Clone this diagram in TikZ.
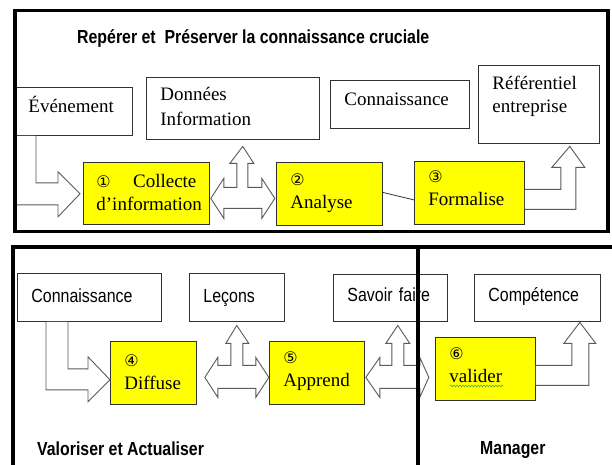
\documentclass[tikz,border=0pt]{standalone}
\usepackage{fontspec}
\setmainfont{Liberation Serif}
\newfontfamily\arialn[FakeStretch=0.84]{Liberation Sans}
\newfontfamily\dejavu{DejaVu Sans}
\usetikzlibrary{positioning}
\usetikzlibrary{calc}
\usetikzlibrary{decorations.pathmorphing}
\definecolor{boxyellow}{RGB}{255,255,0}
\definecolor{edgegray}{RGB}{50,50,50}
\definecolor{arrowgray}{RGB}{90,90,90}
\definecolor{spellgreen}{RGB}{90,170,60}
\newcommand{\cnum}[1]{{\dejavu\fontsize{16}{23}\selectfont #1}}

\begin{document}
\begin{tikzpicture}
[x=1pt,y=-1pt,
 box/.style={draw=edgegray,fill=white,line width=0.8pt,anchor=north west,
   align=left,inner xsep=14pt,inner ysep=0pt,
   font=\fontsize{19}{23}\selectfont},
 sbox/.style={box,font=\arialn\fontsize{19}{23}\selectfont},
 stepbox/.style={box,fill=boxyellow},
 frame/.style={line width=3.5pt},
 blockarrow/.style={draw=arrowgray,fill=white,line width=0.9pt,line join=miter},
 heading/.style={anchor=base west,inner sep=0pt,
   font=\arialn\bfseries\fontsize{18.9}{22}\selectfont},
 spell/.style={draw=spellgreen,line width=0.6pt,decorate,
   decoration={snake,amplitude=0.9pt,segment length=3pt}}]

\clip (0,0) rectangle (612,464);

\node (title) [heading] at (77,43) {Repérer et~ Préserver la connaissance cruciale};

\node (evt) [box,text width=90pt,text height=25pt,text depth=23pt] at (14,87) {Événement};
\node (don) [box,text width=145pt,text height=23pt,text depth=39pt] at (146,77) {Données\\[2pt]Information};
\node (conn1) [box,text width=111pt,text height=25pt,text depth=23pt] at (330,80) {Connaissance};
\node (ref) [box,text width=93pt,text height=24pt,text depth=54pt] at (478,65) {Référentiel\\entreprise};

\node (collecte) [stepbox,inner xsep=13pt,text width=100pt,text height=25pt,text depth=37pt] at (83,162)
	{\cnum{①}\hfill Collecte\\d’information};
\node (analyse) [stepbox,text width=78pt,text height=23pt,text depth=40pt] at (276,162)
	{\cnum{②}\\Analyse};
\node (formalise) [stepbox,text width=82pt,text height=21pt,text depth=42pt] at (414,161)
	{\cnum{③}\\Formalise};

\draw [blockarrow] ($(evt.south west)+(22,0)$) -- ++(0,47) -- ++(22,0) -- ++(0,-11)
	-- ++(22,22) -- ++(-22,23) -- ++(0,-12) -- ++(-43,0) -- ++(0,-69);
\draw [blockarrow] ($(collecte.east)+(1,5)$) -- ++(13,-20) -- ++(0,9) -- ++(13,0)
	-- ++(0,-24) -- ++(-7,0) -- ++(13,-17) -- ++(11,17) -- ++(-6,0) -- ++(0,24)
	-- ++(14,0) -- ++(0,-9) -- ++(13,20) -- ++(-13,20) -- ++(0,-10) -- ++(-38,0)
	-- ++(0,10) -- cycle;
\draw [edgegray,line width=0.8pt] ([yshift=1.5pt]analyse.east) -- ([yshift=-7pt]formalise.west);
\draw [blockarrow] ($(formalise.east)+(0,-3.5)$) -- ++(36,0) -- ++(0,-22) -- ++(-9,0)
	-- ++(18,-21) -- ++(15,21) -- ++(-9,0) -- ++(0,42) -- ++(-51,0);

\node (conn2) [sbox,text width=116pt,text height=29pt,text depth=19pt] at (17,273) {Connaissance};
\node (lecons) [sbox,text width=67pt,text height=29pt,text depth=19pt] at (189,273) {Leçons};
\node (savoir) [sbox,text width=86pt,text height=27pt,text depth=20pt] at (333,274) {Savoir faire};
\node (comp) [sbox,text width=98pt,text height=27pt,text depth=20pt] at (474,274) {Compétence};

\node (diffuse) [stepbox,text width=58pt,text height=25pt,text depth=38pt] at (110,341)
	{\cnum{④}\\Diffuse};
\node (apprend) [stepbox,text width=67pt,text height=22pt,text depth=41pt] at (269,341)
	{\cnum{⑤}\\Apprend};
\node (valider) [stepbox,text width=72pt,text height=22pt,text depth=41pt] at (435,337)
	{\cnum{⑥}\\valider};
\draw [spell] ($(valider.north west)+(15,49)$) -- ++(53,0);

\draw [blockarrow] ($(conn2.south west)+(51,0)$) -- ++(0,47) -- ++(20,0) -- ++(0,-12)
	-- ++(22,23) -- ++(-22,22) -- ++(0,-12) -- ++(-42,0) -- ++(0,-68);
\draw [blockarrow] ($(diffuse.east)+(8,4.5)$) -- ++(13,-20) -- ++(0,8) -- ++(13,0)
	-- ++(0,-22) -- ++(-5,0) -- ++(11,-18) -- ++(12,18) -- ++(-6,0) -- ++(0,22)
	-- ++(13,0) -- ++(0,-8) -- ++(13,20) -- ++(-13,20) -- ++(0,-9) -- ++(-38,0)
	-- ++(0,9) -- cycle;
\draw [blockarrow] ($(apprend.east)+(1,4.5)$) -- ++(14,-20) -- ++(0,8) -- ++(12,0)
	-- ++(0,-22) -- ++(-6,0) -- ++(12,-18) -- ++(12,18) -- ++(-6,0) -- ++(0,22)
	-- ++(16,0) -- ++(0,-8) -- ++(9,20) -- ++(-9,20) -- ++(0,-9) -- ++(-40,0)
	-- ++(0,9) -- cycle;
\draw [blockarrow] ($(valider.east)+(0,-3.5)$) -- ++(36,0) -- ++(0,-22) -- ++(-8,0)
	-- ++(16,-21) -- ++(16,21) -- ++(-7,0) -- ++(0,42) -- ++(-53,0);

\node (valoriser) [heading] at (37,455) {Valoriser et Actualiser};
\node (manager) [heading] at (480,454) {Manager};

\draw [frame] (15,10.5) rectangle (608,231.5);
\draw [frame] (13,470) |- (620,247);
\draw [frame] (418,247) -- (418,470);
\end{tikzpicture}
\end{document}
